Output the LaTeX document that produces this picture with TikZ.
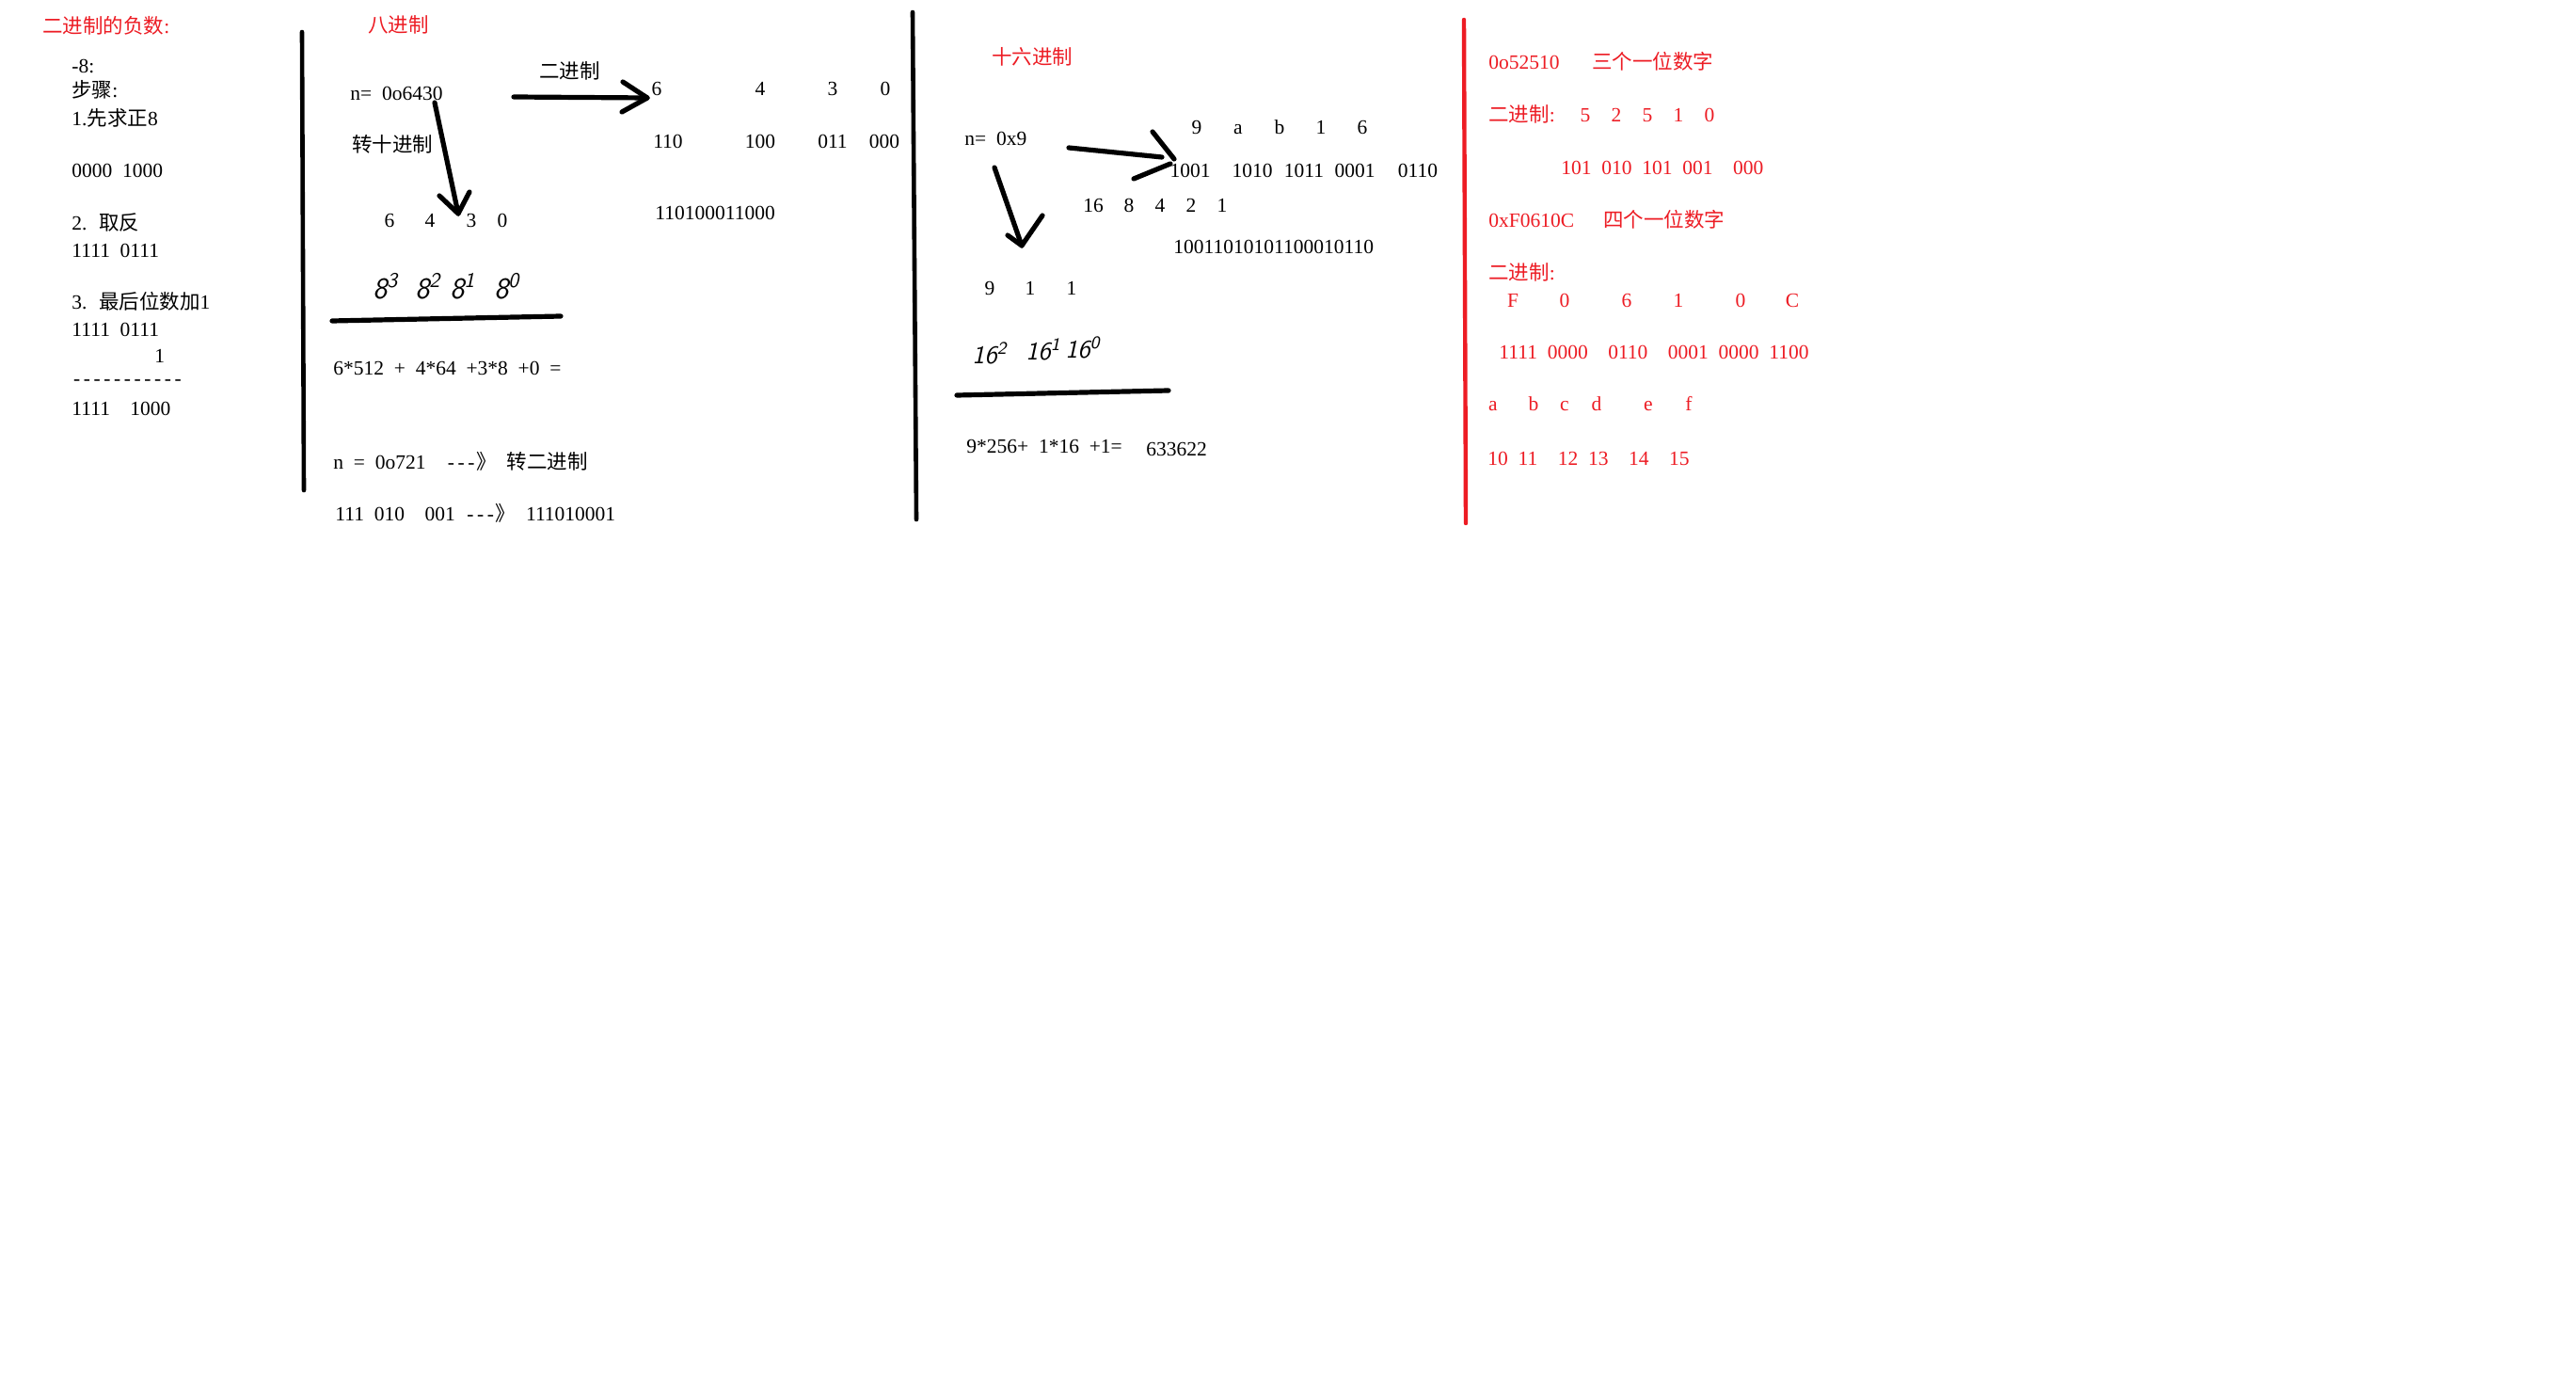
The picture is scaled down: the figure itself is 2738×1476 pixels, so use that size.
\documentclass[tikz,border=0pt]{standalone}
\usepackage{fontspec}
\setmainfont{Liberation Serif}[WordSpace={2,0,0}]
\newfontfamily\cjk{Noto Sans CJK SC}
\usetikzlibrary{arrows.meta}
\definecolor{pred}{RGB}{237,28,36}
\newcommand\zh[1]{{\cjk #1}}
\newcommand\hy{\makebox[0.5em]{-}}
\begin{document}
\begin{tikzpicture}[x=0.5pt,y=-0.5pt,
  txt/.style={anchor=base west,inner sep=0pt,font=\fontsize{10.75}{13}\selectfont},
  ctxt/.style={txt,anchor=base},
  rtxt/.style={txt,text=pred},
  crtxt/.style={ctxt,text=pred},
  hw/.style={anchor=base west,inner sep=0pt,font=\fontsize{16}{18}\selectfont\sffamily\itshape},
  hw2/.style={hw,font=\fontsize{13.5}{15}\selectfont\sffamily\itshape},
  vline/.style={line width=2.3pt,line cap=round},
  rvline/.style={line width=2.2pt,line cap=round,draw=pred},
  stroke/.style={line width=2.6pt,line cap=round,line join=round}]
\fill[white] (0,0) rectangle (2738,1476);
\useasboundingbox (0,0) rectangle (2738,1476);

% ---------- left column ----------
\node[rtxt] (neg) at (45,36) {\zh{二进制的负数}:};
\node[txt] (m8) at (76,77.5) {-8:};
\node[txt] (steps) at (76,104) {\zh{步骤}:};
\node[txt] (s1) at (76,134) {1.\zh{先求正}8};
\node[txt] (b1) at (76,188.5) {0000 1000};
\node[txt] (s2) at (76,245) {2. \zh{取反}};
\node[txt] (b2) at (76,273.5) {1111 0111};
\node[txt] (s3) at (76,329) {3. \zh{最后位数加}1};
\node[txt] (b3) at (76,357.5) {1111 0111};
\node[txt] (b4) at (164,385.5) {1};
\node[txt] (dash) at (76,410) {\hy\hy\hy\hy\hy\hy\hy\hy\hy\hy\hy};
\node[txt] (b5) at (76,441.5) {1111~~1000};

% ---------- separators ----------
\coordinate (v1t) at (321,34);  \coordinate (v1b) at (323,521);
\coordinate (v2t) at (970,13);  \coordinate (v2b) at (974,552);
\coordinate (v3t) at (1556,21); \coordinate (v3b) at (1558,556);
\draw[vline] (v1t) -- (v1b);
\draw[vline] (v2t) -- (v2b);
\draw[rvline] (v3t) -- (v3b);

% ---------- octal ----------
\node[rtxt] (oct) at (391,35) {\zh{八进制}};
\node[txt] (on) at (372,106.5) {n= 0o6430};
\node[txt] (obin) at (573,84) {\zh{二进制}};
\node[txt] (odec) at (374,162) {\zh{转十进制}};
\node[ctxt] (od6) at (698,101.5) {6};
\node[ctxt] (od4) at (808,101.5) {4};
\node[ctxt] (od3) at (885,101.5) {3};
\node[ctxt] (od0) at (941,101.5) {0};
\node[ctxt] (ob6) at (710,157.5) {110};
\node[ctxt] (ob4) at (808,157.5) {100};
\node[ctxt] (ob3) at (885,157.5) {011};
\node[ctxt] (ob0) at (940,157.5) {000};
\node[txt] (obin2) at (696,233.5) {110100011000};
\node[ctxt] (ol6) at (414,241.5) {6};
\node[ctxt] (ol4) at (457,241.5) {4};
\node[ctxt] (ol3) at (501,241.5) {3};
\node[ctxt] (ol0) at (534,241.5) {0};
\node[hw] (e83) at (396,318) {8\textsuperscript{3}};
\node[hw] (e82) at (441,318) {8\textsuperscript{2}};
\node[hw] (e81) at (478,318) {8\textsuperscript{1}};
\node[hw] (e80) at (525,318) {8\textsuperscript{0}};
\node[txt] (osum) at (354,398.5) {6*512 + 4*64 +3*8 +0 =};
\node[txt] (o721) at (354,498.5) {n = 0o721~~\hy\hy\hy\zh{》} \zh{转二进制}};
\node[txt] (o721b) at (356,553.5) {111 010~~001 \hy\hy\hy\zh{》} 111010001};

\coordinate (oa1s) at (546,103); \coordinate (oa1t) at (688,104);
\coordinate (oa1u) at (662,87);  \coordinate (oa1d) at (661,119);
\draw[stroke] (oa1s) -- (oa1t);
\draw[stroke] (oa1u) -- (oa1t) -- (oa1d);
\coordinate (oa2s) at (462,109); \coordinate (oa2t) at (487,227);
\coordinate (oa2l) at (467,208); \coordinate (oa2r) at (499,204);
\draw[stroke] (oa2s) -- (oa2t);
\draw[stroke] (oa2l) -- (oa2t) -- (oa2r);
\coordinate (oul) at (353,341); \coordinate (our) at (596,336);
\draw[stroke] (oul) -- (our);

% ---------- hexadecimal ----------
\node[rtxt] (hex) at (1054,69) {\zh{十六进制}};
\node[txt] (hn) at (1025,154.5) {n= 0x9};
\node[ctxt] (hd9) at (1272,142.5) {9};
\node[ctxt] (hda) at (1316,142.5) {a};
\node[ctxt] (hdb) at (1360,142.5) {b};
\node[ctxt] (hd1) at (1404,142.5) {1};
\node[ctxt] (hd6) at (1448,142.5) {6};
\node[ctxt] (hb9) at (1265,188.5) {1001};
\node[ctxt] (hba) at (1331,188.5) {1010};
\node[ctxt] (hbb) at (1386,188.5) {1011};
\node[ctxt] (hb1) at (1440,188.5) {0001};
\node[ctxt] (hb6) at (1507,188.5) {0110};
\node[ctxt] (w16) at (1162,225.5) {16};
\node[ctxt] (w8) at (1200,225.5) {8};
\node[ctxt] (w4) at (1233,225.5) {4};
\node[ctxt] (w2) at (1266,225.5) {2};
\node[ctxt] (w1) at (1299,225.5) {1};
\node[txt] (hbin) at (1247,269.5) {10011010101100010110};
\node[ctxt] (hl9) at (1052,313.5) {9};
\node[ctxt] (hl1) at (1095,313.5) {1};
\node[ctxt] (hl1b) at (1139,313.5) {1};
\node[hw2] (e162) at (1033,387) {16\textsuperscript{2}};
\node[hw2] (e161) at (1090,383) {16\textsuperscript{1}};
\node[hw2] (e160) at (1132,381) {16\textsuperscript{0}};
\node[txt] (hsum) at (1027,481.5) {9*256+ 1*16 +1=};
\node[txt] (hres) at (1218,484.5) {633622};

\coordinate (ha1s) at (1136,157); \coordinate (ha1t) at (1235,167);
\coordinate (ha1u) at (1225,140); \coordinate (ha1ut) at (1248,169);
\coordinate (ha1d) at (1205,190); \coordinate (ha1dt) at (1244,174);
\draw[stroke] (ha1s) -- (ha1t);
\draw[stroke] (ha1u) -- (ha1ut);
\draw[stroke] (ha1d) -- (ha1dt);
\coordinate (ha2s) at (1057,178); \coordinate (ha2t) at (1086,261);
\coordinate (ha2l) at (1071,250); \coordinate (ha2r) at (1108,229);
\draw[stroke] (ha2s) -- (ha2t);
\draw[stroke] (ha2l) -- (ha2t) -- (ha2r);
\coordinate (hul) at (1017,420); \coordinate (hur) at (1242,415);
\draw[stroke] (hul) -- (hur);

% ---------- right (red) ----------
\node[rtxt] (r1) at (1582,73.5) {0o52510};
\node[rtxt] (r1c) at (1692,74) {\zh{三个一位数字}};
\node[rtxt] (r2) at (1582,130) {\zh{二进制}:};
\node[crtxt] (r25a) at (1685,129.5) {5};
\node[crtxt] (r22) at (1718,129.5) {2};
\node[crtxt] (r25b) at (1751,129.5) {5};
\node[crtxt] (r21) at (1784,129.5) {1};
\node[crtxt] (r20) at (1817,129.5) {0};
\node[rtxt] (r3) at (1659,185.5) {101 010 101 001~~000};
\node[rtxt] (r4) at (1582,241.5) {0xF0610C};
\node[rtxt] (r4c) at (1704,242) {\zh{四个一位数字}};
\node[rtxt] (r5) at (1582,298) {\zh{二进制}:};
\node[crtxt] (rF) at (1608,326.5) {F};
\node[crtxt] (r0a) at (1663,326.5) {0};
\node[crtxt] (r6) at (1729,326.5) {6};
\node[crtxt] (r1d) at (1784,326.5) {1};
\node[crtxt] (r0b) at (1850,326.5) {0};
\node[crtxt] (rC) at (1905,326.5) {C};
\node[rtxt] (r7) at (1593,381.5) {1111 0000~~0110~~0001 0000 1100};
\node[crtxt] (la) at (1587,437) {a};
\node[crtxt] (lb) at (1630,437) {b};
\node[crtxt] (lc) at (1663,437) {c};
\node[crtxt] (ld) at (1697,437) {d};
\node[crtxt] (le) at (1752,437) {e};
\node[crtxt] (lf) at (1795,437) {f};
\node[rtxt] (r8) at (1581,494.5) {10 11~~12 13~~14~~15};
\end{tikzpicture}
\end{document}
